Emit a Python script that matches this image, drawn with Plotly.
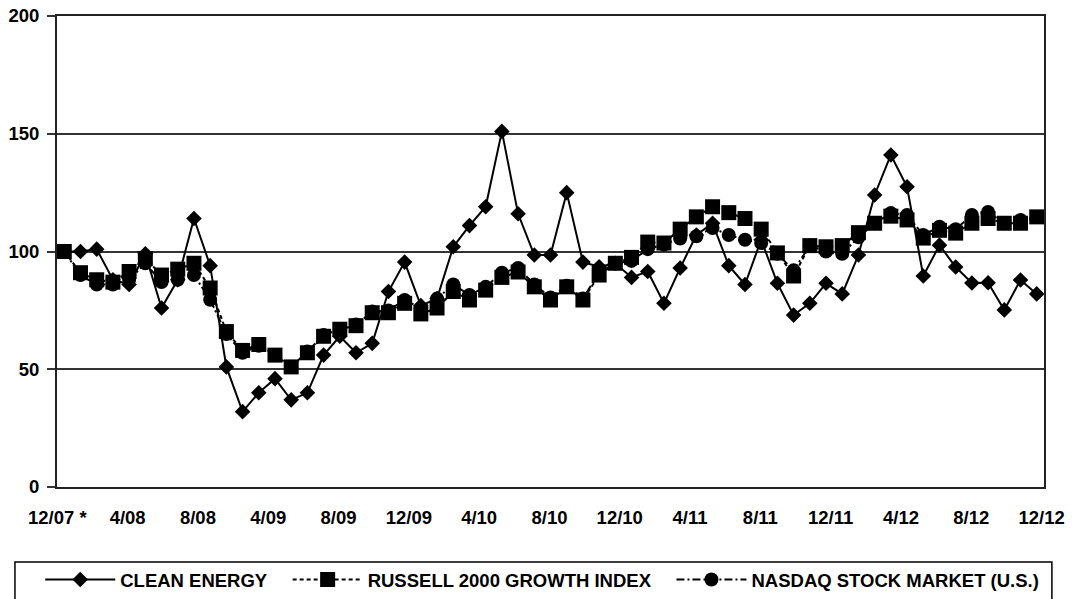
import numpy as np
import plotly.graph_objects as go

# ---- data (monthly index values, 12/07 = 100) ----
months = list(range(61))
tick_labels = ["12/07 *", "4/08", "8/08", "4/09", "8/09", "12/09", "4/10", "8/10",
               "12/10", "4/11", "8/11", "12/11", "4/12", "8/12", "12/12"]

clean_energy = [100, 100, 101, 88, 86, 99, 76, 88, 114, 94,
                51, 32, 40, 46, 37, 40, 56, 64, 57, 61,
                83, 95.5, 77, 80, 102, 111, 119, 151, 116, 98.5,
                98.5, 125, 95.5, 93.5, 95, 89, 91.5, 78, 93, 107,
                112, 94, 86, 105, 86.5, 73, 78, 86.5, 82, 98.5,
                124, 141, 127.5, 89.6, 102.7, 93.4, 86.6, 86.7, 75.2, 87.9, 82]

russell_growth = [100, 91, 88, 87, 91.5, 97, 90, 92.5, 95, 84.5,
                  66, 58, 60.5, 56, 51, 57, 64, 67, 68.5, 74,
                  74, 78, 73.5, 76, 83, 79.4, 83.6, 89, 91.3, 85,
                  79.4, 85, 79.4, 90, 95, 97.5, 104, 103.6, 109.5, 114.7,
                  119, 116.5, 114, 109.5, 99.4, 89.6, 102.5, 102, 102.5, 108,
                  112, 115, 113.4, 105.7, 109, 107.8, 112, 114, 112, 112, 114.7]

nasdaq = [100, 90, 86, 86, 88, 95, 87, 88, 90, 79.5,
          65, 57, 60, 56, 51, 57.5, 64.5, 67, 69, 74.5,
          75, 79.4, 76, 80, 86, 81.5, 85, 91, 93, 86,
          80.5, 85.5, 80, 91, 95, 96, 101, 103, 105.5, 106.5,
          110, 107, 105, 103.6, 99, 92, 102.5, 100, 99, 106,
          112, 116.3, 115.5, 107, 110.5, 109.5, 115.5, 116.8, 112, 113.4, 114.7]

FONT = "Liberation Sans, Arial, Helvetica, sans-serif"
FS = 18.5
PAD = "\u00a0" * 3

fig = go.Figure()

fig.add_trace(go.Scatter(
    x=months, y=russell_growth, name="RUSSELL 2000 GROWTH INDEX" + PAD, legendrank=2,
    mode="lines+markers",
    line=dict(color="black", width=2, dash="4px,3px"),
    marker=dict(symbol="square", size=15, color="black"),
))
fig.add_trace(go.Scatter(
    x=months, y=nasdaq, name="NASDAQ STOCK MARKET (U.S.)", legendrank=3,
    mode="lines+markers",
    line=dict(color="black", width=2, dash="8px,3px,2px,3px"),
    marker=dict(symbol="circle", size=14, color="black"),
))
fig.add_trace(go.Scatter(
    x=months, y=clean_energy, name="CLEAN ENERGY" + PAD, legendrank=1,
    mode="lines+markers",
    line=dict(color="black", width=2),
    marker=dict(symbol="diamond", size=12, color="black"),
))

tickvals = np.linspace(-0.43, 60.3, len(tick_labels))

fig.update_layout(
    width=1072, height=599,
    margin=dict(l=57, r=28, t=16, b=112, autoexpand=False),
    plot_bgcolor="white", paper_bgcolor="white",
    font=dict(family=FONT, size=FS, color="black"),
    showlegend=True,
    legend=dict(
        orientation="h", x=-0.017, xanchor="left", y=-0.1975, yanchor="middle",
        font=dict(family=FONT, size=FS, color="black", weight="bold"),
        bgcolor="rgba(0,0,0,0)", itemwidth=70, traceorder="normal",
    ),
    shapes=[dict(type="rect", xref="paper", yref="paper",
                 x0=-0.0426, x1=1.008, y0=-0.159, y1=-0.26,
                 line=dict(color="black", width=1.5), fillcolor="rgba(0,0,0,0)",
                 layer="below")],
)

fig.update_xaxes(
    range=[-0.45, 60.45], tickmode="array", tickvals=tickvals, ticktext=tick_labels,
    showgrid=False, zeroline=False, showline=True, linecolor="#222", linewidth=2,
    mirror=True, ticks="", ticklabelstandoff=13, automargin=False,
    tickfont=dict(family=FONT, size=FS, color="black", weight="bold"),
)
fig.update_yaxes(
    range=[0, 200], tickvals=[0, 50, 100, 150, 200],
    showgrid=True, gridcolor="#333", gridwidth=1.5, zeroline=False,
    showline=True, linecolor="#222", linewidth=2, mirror=True, automargin=False,
    ticks="outside", ticklen=8, tickcolor="#333", tickwidth=1.5, ticklabelstandoff=4,
    tickfont=dict(family=FONT, size=FS, color="black", weight="bold"),
)

fig.write_html("out.html", config={"displayModeBar": False},
               post_script="document.body.style.margin='0';document.body.style.overflow='hidden';")
